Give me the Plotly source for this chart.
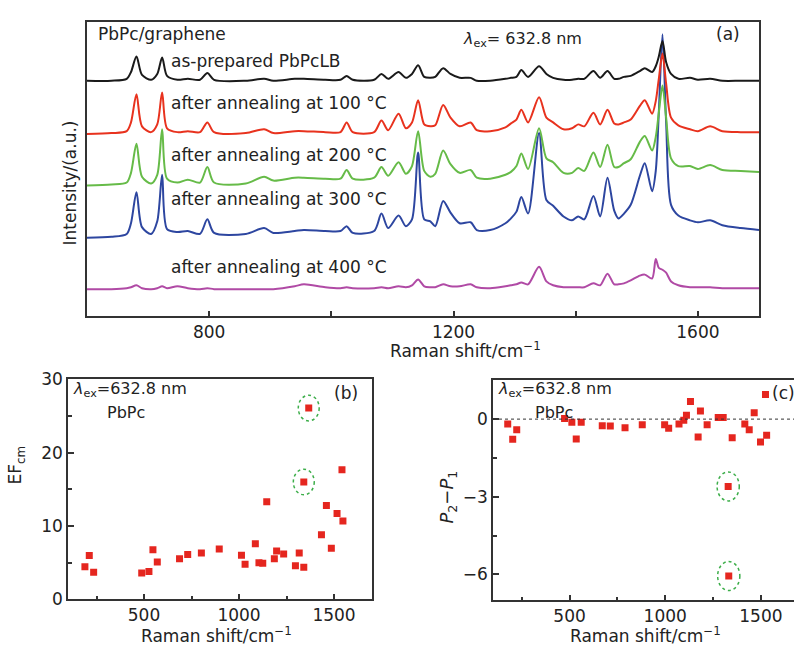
import plotly.graph_objects as go

# ---------------- data ----------------
# Panel (a): Raman spectra (shift in cm-1, intensity in arbitrary offset units)
shift_a = [600, 640, 665, 672, 681, 690, 705, 715, 723, 731, 748, 765, 785, 797, 808,
           860, 890, 905, 940, 955, 990, 1015, 1025, 1035, 1070, 1082, 1093, 1110, 1122,
           1132, 1142, 1152, 1162, 1170, 1183, 1195, 1210, 1228, 1238, 1260, 1285, 1294,
           1303, 1311, 1322, 1340, 1352, 1363, 1380, 1394, 1404, 1414, 1429, 1440, 1452,
           1463, 1470, 1479, 1490, 1505, 1513, 1525, 1531, 1536, 1542, 1548, 1556, 1568,
           1587, 1600, 1620, 1640, 1670, 1700]
int_asprep = [243, 243, 245, 252, 268, 249, 244, 250, 267, 248, 244, 245, 244, 251, 244,
              243, 245, 243, 245, 245, 244, 244, 248, 244, 244, 250, 245, 252, 246,
              250, 259, 247, 246, 247, 256, 250, 246, 246, 243, 243, 245, 246,
              247, 254, 247, 258, 250, 246, 244, 244, 245, 245, 253, 246, 253,
              245, 245, 247, 248, 253, 256, 252, 258, 268, 284, 262, 250, 245,
              246, 244, 245, 243, 243, 243]
int_100 = [188, 189, 191, 200, 229, 196, 190, 198, 231, 194, 190, 191, 190, 200, 190,
           189, 193, 189, 191, 191, 190, 190, 200, 190, 190, 202, 192, 209, 194,
           200, 223, 198, 196, 197, 218, 205, 196, 200, 192, 191, 195, 199,
           203, 213, 200, 226, 205, 200, 193, 194, 198, 196, 210, 198, 213,
           199, 198, 200, 203, 217, 223, 209, 222, 245, 271, 240, 205, 197,
           193, 191, 196, 191, 190, 190]
int_200 = [135, 136, 138, 148, 178, 144, 137, 146, 193, 142, 138, 141, 138, 154, 138,
           137, 144, 140, 143, 143, 142, 142, 151, 142, 143, 154, 145, 159, 147,
           155, 191, 150, 144, 147, 171, 157, 148, 151, 143, 142, 146, 149,
           155, 168, 152, 194, 163, 159, 148, 148, 153, 150, 169, 154, 177,
           154, 154, 158, 162, 180, 186, 171, 185, 210, 238, 205, 163, 155,
           155, 152, 156, 151, 150, 149]
int_300 = [81, 82, 85, 96, 128, 92, 85, 98, 146, 90, 87, 88, 85, 100, 86,
           85, 91, 86, 88, 89, 88, 88, 93, 86, 88, 106, 91, 104, 93,
           100, 169, 100, 98, 93, 119, 107, 96, 97, 89, 89, 96, 101,
           108, 123, 106, 189, 120, 114, 103, 99, 103, 100, 124, 103, 143,
           109, 101, 106, 115, 145, 158, 129, 150, 210, 291, 200, 115, 104,
           99, 97, 99, 94, 91, 89]
int_400 = [28, 28, 29, 30, 32, 29, 28, 29, 31, 29, 31, 29, 28, 29, 28,
           28, 28, 28, 31, 33, 30, 29, 30, 29, 29, 30, 29, 31, 30,
           32, 38, 31, 30, 30, 33, 31, 31, 33, 30, 29, 31, 32,
           33, 35, 33, 51, 36, 32, 30, 30, 30, 30, 34, 32, 44,
           33, 33, 34, 37, 42, 43, 39, 59, 50, 48, 45, 36, 32,
           30, 30, 30, 29, 29, 29]
spectra_labels = ["as-prepared PbPcLB", "after annealing at 100 °C", "after annealing at 200 °C",
                  "after annealing at 300 °C", "after annealing at 400 °C"]

# Panel (b): EF_cm vs Raman shift
shift_b = [189, 212, 235, 488, 526, 547, 570, 687, 730, 802, 896, 1013, 1032, 1086, 1105,
           1125, 1146, 1186, 1198, 1235, 1297, 1317, 1341, 1341, 1367, 1434, 1460, 1486,
           1516, 1542, 1547]
ef_cm = [4.45, 5.97, 3.7, 3.58, 3.79, 6.76, 5.1, 5.54, 6.1, 6.32, 6.85, 6.02, 4.8, 7.59, 5.0,
         4.93, 13.3, 5.54, 6.59, 6.19, 4.58, 6.32, 4.36, 16.0, 26.08, 8.81, 12.78, 6.98,
         11.69, 17.66, 10.68]
highlight_b = [23, 24]

# Panel (c): P2 - P1 vs Raman shift
shift_c = [177, 203, 224, 474, 512, 535, 561, 671, 713, 790, 880, 997, 1018, 1072, 1097,
           1111, 1132, 1172, 1184, 1219, 1277, 1303, 1329, 1332, 1350, 1416, 1439, 1465,
           1498, 1524, 1530]
p2_minus_p1 = [-0.19, -0.78, -0.41, 0.02, -0.12, -0.77, -0.12, -0.26, -0.27, -0.33, -0.22,
               -0.22, -0.35, -0.19, -0.04, 0.15, 0.68, -0.69, 0.31, -0.22, 0.06, 0.06,
               -2.6, -6.06, -0.72, -0.19, -0.41, 0.25, -0.88, 0.95, -0.62]
highlight_c = [22, 23]

# ---------------- style ----------------
FONT = "DejaVu Sans"
TXT = "#222222"
AX = "#333333"
W, H = 794, 652
colors = ["#1a1a1a", "#e8321e", "#66bb48", "#2d46a0", "#b04aa5"]
series = [int_asprep, int_100, int_200, int_300, int_400]


def px(x):
    return x / W


def py(y):
    return 1 - y / H


fig = go.Figure()

# draw order: magenta, blue, green, red, black (black on top)
for i in [4, 3, 2, 1, 0]:
    fig.add_trace(go.Scatter(x=shift_a, y=series[i], mode="lines", xaxis="x", yaxis="y",
                             line=dict(color=colors[i], width=2, shape="spline", smoothing=0.8),
                             name=spectra_labels[i], showlegend=False, hoverinfo="skip"))

mk = dict(symbol="square", size=7, color="#e5261f")
fig.add_trace(go.Scatter(x=shift_b, y=ef_cm, mode="markers", xaxis="x2", yaxis="y2",
                         marker=mk, showlegend=False))
fig.add_trace(go.Scatter(x=shift_c, y=p2_minus_p1, mode="markers", xaxis="x3", yaxis="y3",
                         marker=mk, showlegend=False))

axline = dict(showline=True, linecolor=AX, linewidth=1.5, showgrid=False, zeroline=False,
              tickcolor=AX, tickwidth=1.5,
              tickfont=dict(family=FONT, size=17, color=TXT))

fig.update_layout(
    width=W, height=H, margin=dict(l=0, r=0, t=0, b=0),
    paper_bgcolor="white", plot_bgcolor="white",
    xaxis=dict(domain=[px(87), px(759)], anchor="y", range=[600, 1700],
               tickvals=[800, 1200, 1600], ticks="inside", ticklen=6, mirror=True,
               minor=dict(tickvals=[1000, 1400], ticks="inside", ticklen=6,
                          tickcolor=AX, tickwidth=1.5),
               **axline),
    yaxis=dict(domain=[py(316), py(12)], anchor="x", range=[0, 304],
               showticklabels=False, ticks="", mirror=True, **axline),
    xaxis2=dict(domain=[px(68), px(372)], anchor="y2", range=[100, 1700],
                tickvals=[500, 1000, 1500], ticks="inside", ticklen=6, mirror=True,
                minor=dict(dtick=250, tick0=0, ticks="inside", ticklen=4, tickcolor=AX),
                **axline),
    yaxis2=dict(domain=[py(608), py(381)], anchor="x2", range=[0, 30],
                tickvals=[0, 10, 20, 30], ticks="inside", ticklen=6, mirror=True,
                minor=dict(dtick=5, tick0=0, ticks="inside", ticklen=4, tickcolor=AX),
                **axline),
    xaxis3=dict(domain=[px(493), 1.0], anchor="y3", range=[100, 1673],
                tickvals=[500, 1000, 1500], ticks="inside", ticklen=6, mirror=True,
                minor=dict(dtick=250, tick0=0, ticks="inside", ticklen=4, tickcolor=AX),
                **axline),
    yaxis3=dict(domain=[py(609), py(382)], anchor="x3", range=[-7, 1.5],
                tickvals=[0, -3, -6], ticktext=["0", "−3", "−6"], ticks="inside", ticklen=6,
                mirror=False,
                minor=dict(dtick=1.5, tick0=0, ticks="inside", ticklen=4, tickcolor=AX),
                **axline),
)

# zero reference line in (c)
fig.add_shape(type="line", xref="x3 domain", yref="y3", x0=0, x1=1, y0=0, y1=0,
              line=dict(color="#333333", width=1, dash="dot"))

# dashed ellipses around highlighted points
for idxs, xs, ys, xr, yr, dx, dy in [(highlight_b, shift_b, ef_cm, "x2", "y2", 55, 1.75),
                                      (highlight_c, shift_c, p2_minus_p1, "x3", "y3", 58, 0.56)]:
    for i in idxs:
        fig.add_shape(type="circle", xref=xr, yref=yr,
                      x0=xs[i] - dx, x1=xs[i] + dx, y0=ys[i] - dy, y1=ys[i] + dy,
                      line=dict(color="#3dae4a", width=1.5, dash="dot"))


def ann(text, x, y, size=17, xanchor="left", angle=0):
    fig.add_annotation(text=text, x=px(x), y=py(y), xref="paper", yref="paper",
                       showarrow=False, xanchor=xanchor, yanchor="middle", textangle=angle,
                       font=dict(family=FONT, size=size, color=TXT))


lam = "<i>λ</i><sub>ex</sub>"
# panel (a) texts
ann("PbPc/graphene", 96, 25, size=17)
ann(spectra_labels[0], 169, 53)
ann(spectra_labels[1], 169, 96)
ann(spectra_labels[2], 169, 150)
ann(spectra_labels[3], 169, 195)
ann(spectra_labels[4], 169, 265)
ann(lam + "= 632.8 nm", 461, 30, size=16)
ann("(a)", 728, 25, xanchor="center")
ann("Intensity/(a.u.)", 70, 179, size=17, xanchor="center", angle=-90)
ann("Raman shift/cm<sup>−1</sup>", 465, 351, size=17, xanchor="center")

# panel (b) texts
ann(lam + "=632.8 nm", 71, 392, size=16)
ann("PbPc", 105, 415, size=16)
ann("(b)", 346, 395, xanchor="center")
ann("EF<sub>cm</sub>", 17, 470, size=17, xanchor="center", angle=-90)
ann("Raman shift/cm<sup>−1</sup>", 216, 645, size=17, xanchor="center")

# panel (c) texts
ann(lam + "=632.8 nm", 496, 392, size=16)
ann("PbPc", 533, 415, size=16)
ann("(c)", 770, 395)
ann("<i>P</i><sub>2</sub>−<i>P</i><sub>1</sub>", 448, 503, size=18, xanchor="center", angle=-90)
ann("Raman shift/cm<sup>−1</sup>", 645, 645, size=17, xanchor="center")

fig.write_html("out.html")
